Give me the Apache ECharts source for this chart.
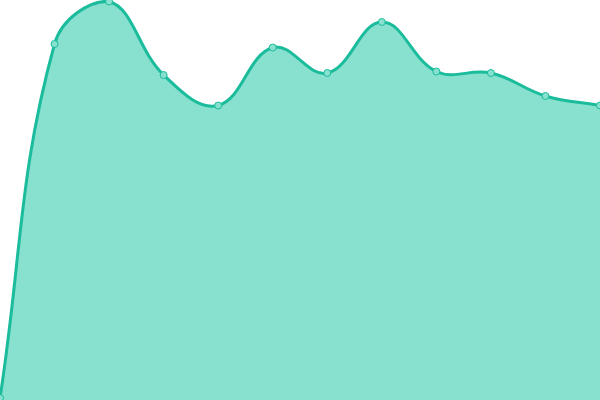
<!DOCTYPE html>
<html><head><meta charset="utf-8">
<script src="https://cdn.jsdelivr.net/npm/echarts@6/dist/echarts.min.js"></script>
<style>html,body{margin:0;padding:0;background:#fff}#c{width:600px;height:400px}</style>
</head><body><div id="c"></div>
<script>
const categories = ['1','2','3','4','5','6','7','8','9','10','11','12'];
const values = [2, 356, 398.5, 325, 294.5, 352.5, 327, 378, 328.5, 327, 304, 294.5];
const TENSION = 0.4;
const LINE = '#1abc9c', AREA = '#88e0cf';

function renderCurve(params, api) {
  if (params.dataIndex !== 0) return null;
  const pts = values.map((v, i) => api.coord([i, v]));
  const n = pts.length;
  const W = api.getWidth(), H = api.getHeight();
  const cap = p => [Math.min(Math.max(p[0], 0), W), Math.min(Math.max(p[1], 0), H)];
  const inCp = [], outCp = [];
  for (let i = 0; i < n; i++) {
    const p = pts[i];
    const a = pts[Math.max(i - 1, 0)], b = pts[Math.min(i + 1, n - 1)];
    const d01 = Math.hypot(p[0] - a[0], p[1] - a[1]);
    const d12 = Math.hypot(b[0] - p[0], b[1] - p[1]);
    let s01 = d01 / (d01 + d12), s12 = d12 / (d01 + d12);
    if (isNaN(s01)) s01 = 0; if (isNaN(s12)) s12 = 0;
    const fa = TENSION * s01, fb = TENSION * s12;
    inCp.push(cap([p[0] - fa * (b[0] - a[0]), p[1] - fa * (b[1] - a[1])]));
    outCp.push(cap([p[0] + fb * (b[0] - a[0]), p[1] + fb * (b[1] - a[1])]));
  }
  let d = 'M' + pts[0][0] + ' ' + pts[0][1];
  for (let i = 0; i < n - 1; i++) {
    const c0 = outCp[i], c1 = inCp[i + 1], q = pts[i + 1];
    d += ' C' + c0[0] + ' ' + c0[1] + ' ' + c1[0] + ' ' + c1[1] + ' ' + q[0] + ' ' + q[1];
  }
  const base = api.coord([0, 0])[1];
  const area = d + ' L' + pts[n - 1][0] + ' ' + base + ' L' + pts[0][0] + ' ' + base + ' Z';
  return {
    type: 'group',
    children: [
      { type: 'path', shape: { pathData: area }, style: { fill: AREA, stroke: null } },
      { type: 'path', shape: { pathData: d }, style: { fill: null, stroke: LINE, lineWidth: 3 } }
    ]
  };
}

const chart = echarts.init(document.getElementById('c'), null, {renderer:'canvas'});
chart.setOption({
  animation:false,
  grid:{left:0,right:0,top:0,bottom:0},
  xAxis:{type:'category',data:categories,boundaryGap:false,show:false},
  yAxis:{type:'value',min:0,max:400,show:false},
  series:[{
    type:'custom',
    renderItem: renderCurve,
    data: values.map((v, i) => [i, v]),
    clip:false,
    z:1
  },{
    type:'line',data:values,
    symbol:'circle',symbolSize:7,
    lineStyle:{width:0,opacity:0},
    itemStyle:{color:'#88e0cf',borderColor:'#1abc9c',borderWidth:1},
    z:3
  }]
});
</script></body></html>
